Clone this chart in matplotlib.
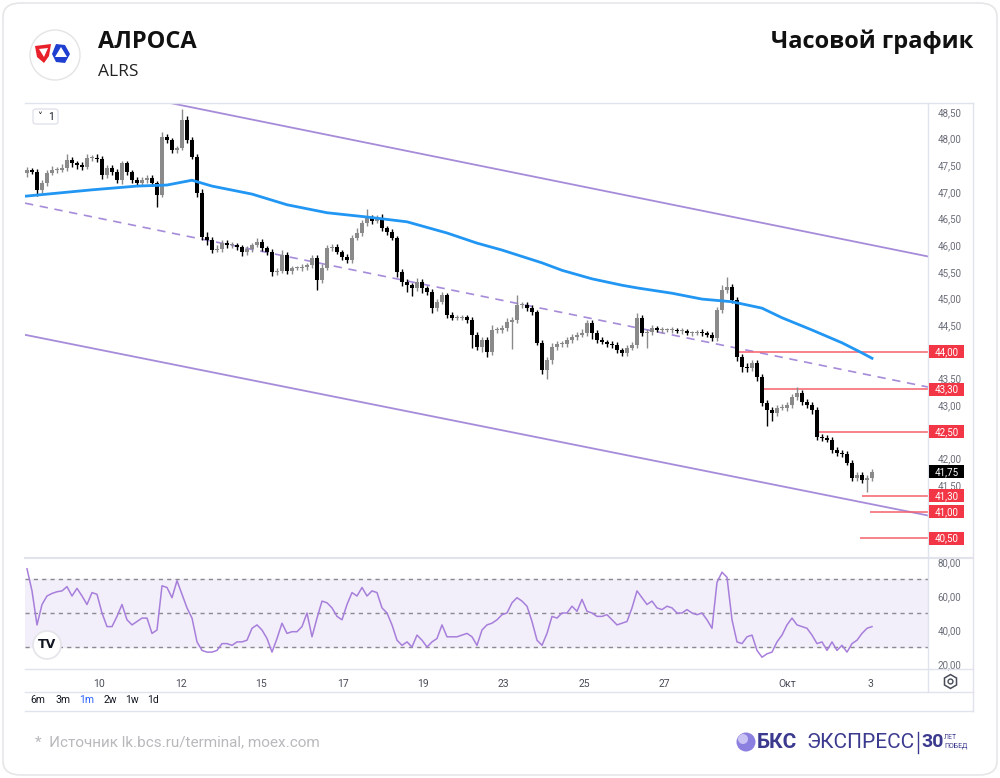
import matplotlib
matplotlib.use('Agg')
import matplotlib.pyplot as plt
from matplotlib.patches import FancyBboxPatch, Rectangle, Ellipse, Polygon
from matplotlib.lines import Line2D
import numpy as np

# ---------------- data ----------------
first_open = 47.35
closes = [
    47.41, 47.38, 47.04, 47.17, 47.36, 47.41, 47.42, 47.45, 47.60, 47.54,
    47.50, 47.47, 47.64, 47.64, 47.62, 47.32, 47.45, 47.38, 47.22, 47.54,
    47.38, 47.22, 47.17, 47.22, 47.26, 47.17, 46.94, 48.03, 47.97, 47.79,
    47.82, 48.35, 47.97, 47.66, 46.98, 46.15, 46.10, 45.91, 45.93, 46.04,
    46.00, 46.00, 45.97, 45.87, 45.93,
    46.00, 46.06, 45.95, 45.87, 45.50, 45.52, 45.82, 45.52, 45.57, 45.57,
    45.60, 45.63, 45.76, 45.35, 45.57, 45.95, 45.97, 45.88, 45.78, 45.72,
    46.14, 46.23, 46.42, 46.51, 46.45, 46.51, 46.32, 46.25, 46.14, 45.50,
    45.31, 45.25, 45.20, 45.31, 45.20, 45.12, 44.82, 44.94, 45.07, 44.69,
    44.64, 44.64, 44.65, 44.60, 44.32,
    44.09, 44.22, 44.00, 44.41, 44.41, 44.45, 44.56, 44.60, 44.88, 44.88,
    44.82, 44.75, 44.17, 43.66, 43.85, 44.09, 44.15, 44.15, 44.22, 44.28,
    44.32, 44.35, 44.54, 44.35, 44.22, 44.19, 44.15, 44.13, 44.03, 43.98,
    44.07, 44.13, 44.64, 44.35, 44.37, 44.45, 44.41, 44.41, 44.41, 44.41,
    44.39, 44.39, 44.35, 44.35, 44.37, 44.35,
    44.32, 44.26, 44.78, 45.16, 45.22, 44.97, 43.90, 43.72, 43.70, 43.79,
    43.53, 43.04, 42.91, 42.85, 42.95, 42.95, 43.00, 43.15, 43.23, 43.06,
    43.00, 42.91, 42.40, 42.38, 42.35, 42.16, 42.10, 42.08, 41.92, 41.63,
    41.69, 41.60, 41.63, 41.75,
]
wick_up = [
    0.05, 0.04, 0.06, 0.05, 0.06, 0.08, 0.05, 0.07, 0.12, 0.06,
    0.05, 0.06, 0.08, 0.05, 0.07, 0.05, 0.06, 0.05, 0.06, 0.05,
    0.05, 0.04, 0.06, 0.07, 0.05, 0.05, 0.04, 0.09, 0.06, 0.05,
    0.05, 0.20, 0.08, 0.06, 0.05, 0.07, 0.10, 0.05, 0.08, 0.06,
    0.05, 0.06, 0.05, 0.04, 0.06,
    0.05, 0.08, 0.05, 0.04, 0.06, 0.05, 0.10, 0.05, 0.04, 0.05,
    0.05, 0.04, 0.06, 0.05, 0.07, 0.05, 0.06, 0.05, 0.04, 0.05,
    0.06, 0.09, 0.06, 0.17, 0.05, 0.06, 0.07, 0.05, 0.06, 0.04,
    0.05, 0.06, 0.05, 0.08, 0.05, 0.04, 0.05, 0.06, 0.05, 0.04,
    0.05, 0.06, 0.04, 0.05, 0.05,
    0.05, 0.06, 0.05, 0.10, 0.06, 0.05, 0.07, 0.05, 0.19, 0.06,
    0.05, 0.06, 0.04, 0.05, 0.06, 0.07, 0.05, 0.06, 0.05, 0.06,
    0.05, 0.08, 0.06, 0.05, 0.06, 0.05, 0.04, 0.05, 0.05, 0.04,
    0.05, 0.06, 0.09, 0.05, 0.06, 0.05, 0.04, 0.05, 0.04, 0.05,
    0.04, 0.05, 0.04, 0.05, 0.04, 0.05,
    0.05, 0.06, 0.07, 0.10, 0.18, 0.06, 0.05, 0.06, 0.07, 0.05,
    0.06, 0.05, 0.06, 0.05, 0.06, 0.07, 0.05, 0.06, 0.12, 0.05,
    0.06, 0.05, 0.06, 0.05, 0.06, 0.05, 0.06, 0.05, 0.06, 0.05,
    0.06, 0.05, 0.06, 0.06,
]
wick_dn = [
    0.06, 0.05, 0.12, 0.06, 0.05, 0.04, 0.06, 0.05, 0.05, 0.07,
    0.06, 0.05, 0.04, 0.06, 0.05, 0.08, 0.05, 0.06, 0.05, 0.07,
    0.06, 0.05, 0.06, 0.04, 0.05, 0.06, 0.22, 0.04, 0.05, 0.06,
    0.05, 0.04, 0.06, 0.05, 0.07, 0.06, 0.10, 0.05, 0.04, 0.05,
    0.06, 0.05, 0.05, 0.07, 0.05,
    0.05, 0.04, 0.06, 0.05, 0.08, 0.06, 0.04, 0.05, 0.05, 0.04,
    0.05, 0.06, 0.05, 0.19, 0.05, 0.04, 0.06, 0.05, 0.05, 0.06,
    0.05, 0.04, 0.06, 0.05, 0.05, 0.04, 0.05, 0.06, 0.05, 0.10,
    0.08, 0.12, 0.15, 0.06, 0.10, 0.05, 0.10, 0.05, 0.04, 0.06,
    0.05, 0.04, 0.05, 0.05, 0.25,
    0.06, 0.10, 0.10, 0.05, 0.06, 0.05, 0.05, 0.50, 0.05, 0.06,
    0.05, 0.06, 0.05, 0.07, 0.16, 0.08, 0.06, 0.05, 0.06, 0.05,
    0.06, 0.05, 0.05, 0.10, 0.06, 0.05, 0.06, 0.05, 0.05, 0.06,
    0.05, 0.04, 0.05, 0.06, 0.28, 0.05, 0.04, 0.05, 0.04, 0.05,
    0.04, 0.05, 0.04, 0.05, 0.04, 0.05,
    0.05, 0.06, 0.05, 0.06, 0.05, 0.05, 0.08, 0.10, 0.08, 0.06,
    0.07, 0.06, 0.30, 0.15, 0.06, 0.05, 0.06, 0.05, 0.06, 0.05,
    0.06, 0.08, 0.05, 0.06, 0.05, 0.06, 0.05, 0.06, 0.05, 0.06,
    0.05, 0.06, 0.23, 0.05,
]
rsi = [
    76, 63, 43, 55, 60, 61.5, 62.5, 63, 65.5, 60,
    64.5, 60, 55, 62, 61, 50, 42, 42, 48, 55,
    46, 43, 45, 47, 47, 38, 40, 66, 65, 59,
    69, 61, 53, 47, 33, 28, 27, 27, 28, 32,
    32, 31, 33, 33, 34, 41, 43, 40, 35, 27,
    35, 44, 38, 39, 39, 42, 50, 36, 47, 57,
    56, 53, 48, 46, 55, 62, 60, 65, 60, 63,
    62, 53, 50, 43, 34, 31, 33, 30, 37, 34,
    30, 33, 35, 43, 36, 36, 36, 37, 38, 36,
    31, 40, 43, 44, 46, 49, 50, 56, 59, 57,
    54, 45, 34, 31, 38, 48, 47, 50, 50, 54,
    51, 58, 51, 50, 48, 48, 49, 46, 43, 44,
    45, 53, 63, 59, 55, 57, 53, 52, 54, 53,
    50, 50, 52, 50, 49, 50, 46, 41, 68, 74,
    71, 46, 33, 32, 36, 37, 28, 24, 26, 27,
    33, 37, 43, 47, 43, 42, 41, 37, 32, 33,
    28, 33, 28, 31, 27, 32, 34, 38, 41, 42,
]
ma_idx = [-0.4, 13, 22, 28, 33, 37, 45, 52, 60, 68, 76, 84, 90, 95, 103, 107,
          113, 119, 122, 129, 135, 141, 147, 151, 157, 163, 167, 169]
ma_val = [46.92, 47.04, 47.11, 47.13, 47.22, 47.11, 46.96, 46.76, 46.61, 46.53,
          46.44, 46.23, 46.04, 45.91, 45.67, 45.53, 45.37, 45.25, 45.20, 45.10,
          44.99, 44.94, 44.82, 44.64, 44.41, 44.17, 43.98, 43.88]

chan_upper = ([28.6, 180.2], [48.67, 45.79])
chan_mid = ([-0.4, 180.2], [46.79, 43.34])
chan_lower = ([-0.4, 180.2], [44.32, 40.93])

levels = [44.00, 43.30, 42.50, 41.30, 41.00, 40.50]
level_start = [141.6, 146.5, 158.0, 167.0, 168.6, 166.6]
last_price = 41.75

price_ticks = [48.5, 48.0, 47.5, 47.0, 46.5, 46.0, 45.5, 45.0, 44.5,
               43.5, 43.0, 42.0, 41.5]
rsi_ticks = [20, 40, 60, 80]
day_pos = [14.4, 30.8, 46.8, 63.2, 79.2, 95.2, 111.4, 127.4, 152.0, 168.6]
day_labels = ['10', '12', '15', '17', '19', '23', '25', '27', 'Окт', '3']
ranges = ['6m', '3m', '1m', '2w', '1w', '1d']

# ---------------- figure ----------------
W, H = 1000, 778
fig = plt.figure(figsize=(10, 7.78), dpi=100)
fig.patch.set_facecolor('white')


def fx(px):
    return px / W


def fy(py):
    return 1 - py / H


def circ(cx, cy, r, **kw):
    e = Ellipse((fx(cx), fy(cy)), 2 * r / W, 2 * r / H, transform=fig.transFigure, **kw)
    fig.add_artist(e)
    return e


card = FancyBboxPatch((fx(3), fy(775)), fx(994), 772 / H,
                      boxstyle='round,pad=0,rounding_size=0.018',
                      transform=fig.transFigure, facecolor='white',
                      edgecolor='#e6e6e9', lw=1.2, zorder=-5)
fig.add_artist(card)

AXF = 'Roboto'
lc = '#e0e3eb'

# main price pane
ax = fig.add_axes([fx(25), fy(556), (928 - 25) / W, (556 - 103) / H])
ax.patch.set_alpha(0)
ax.set_xlim(-0.4, 180.2)
ax.set_ylim(40.17, 48.669)
for s in ax.spines.values():
    s.set_visible(False)
ax.set_xticks([])

n = len(closes)
x = np.arange(n)
c = np.array(closes)
o = np.array([first_open] + closes[:-1])
hi = np.maximum(o, c) + np.array(wick_up)
lo = np.minimum(o, c) - np.array(wick_dn)
up = c >= o
cols = np.where(up, '#8a8a8a', '#000000')
ax.vlines(x, lo, hi, colors=cols, lw=1, zorder=3)
ax.bar(x, np.maximum(np.abs(c - o), 0.015), bottom=np.minimum(o, c), width=0.72,
       color=cols, linewidth=0, zorder=4)

pc = '#a68bd9'
ax.plot(*chan_upper, color=pc, lw=1.3, zorder=2)
ax.plot(*chan_lower, color=pc, lw=1.3, zorder=2)
ax.plot(*chan_mid, color=pc, lw=1.2, ls=(0, (5, 4)), zorder=2)
ax.plot(ma_idx, ma_val, color='#2196f3', lw=2, zorder=5, solid_joinstyle='round')
ax.hlines(levels, level_start, 180.2, colors='#f5606c', lw=1.1, zorder=2)

ax.yaxis.tick_right()
ax.set_yticks(price_ticks)
ax.set_yticklabels([f'{t:.2f}'.replace('.', ',') for t in price_ticks])
ax.tick_params(axis='y', length=0, pad=7, labelsize=7, labelcolor='#6a6d78')
for t in ax.get_yticklabels():
    t.set_fontfamily(AXF)


def price_box(level, text, fc):
    yd = ax.transData.transform((0, level))[1]
    yf = yd / fig.bbox.height
    r = Rectangle((fx(929), yf - 6.5 / H), 35 / W, 13 / H, transform=fig.transFigure,
                  facecolor=fc, edgecolor='none', zorder=10)
    fig.add_artist(r)
    fig.text(fx(946.5), yf, text, color='white', fontsize=7, family=AXF,
             ha='center', va='center', zorder=11)


for lv in levels:
    price_box(lv, f'{lv:.2f}'.replace('.', ','), '#f23645')
price_box(last_price, f'{last_price:.2f}'.replace('.', ','), '#000000')

# RSI pane
ax2 = fig.add_axes([fx(25), fy(668), (928 - 25) / W, (668 - 559) / H])
ax2.patch.set_alpha(0)
ax2.set_xlim(-0.4, 180.2)
ax2.set_ylim(17.65, 81.76)
for s in ax2.spines.values():
    s.set_visible(False)
ax2.axhspan(30, 70, color='#f2eefa', zorder=0)
for lv in [70, 50, 30]:
    ax2.axhline(lv, color='#8a8a8f', lw=1, ls=(0, (3, 3)), zorder=1)
ax2.plot(x, rsi, color='#a77fdb', lw=1.1, zorder=3)
ax2.yaxis.tick_right()
ax2.set_yticks(rsi_ticks)
ax2.set_yticklabels([f'{t:.2f}'.replace('.', ',') for t in rsi_ticks])
ax2.set_xticks(day_pos)
ax2.set_xticklabels(day_labels)
ax2.tick_params(axis='y', length=0, pad=7, labelsize=7, labelcolor='#6a6d78')
ax2.tick_params(axis='x', length=0, pad=8, labelsize=7.5, labelcolor='#4a4d58')
for t in ax2.get_yticklabels() + ax2.get_xticklabels():
    t.set_fontfamily(AXF)

# TradingView logo
circ(47, 645, 14, facecolor='white', edgecolor='#e4e4ea', lw=1.2, zorder=6)
fig.text(fx(47), fy(645), 'TV', fontsize=9, fontweight='bold', ha='center',
         va='center', color='#131722', zorder=7)


# frame lines
def hline(py, x0=25, x1=973, lw=1):
    fig.add_artist(Line2D([fx(x0), fx(x1)], [fy(py), fy(py)], transform=fig.transFigure,
                          color=lc, lw=lw))


def vline(px, y0, y1, lw=1):
    fig.add_artist(Line2D([fx(px), fx(px)], [fy(y0), fy(y1)], transform=fig.transFigure,
                          color=lc, lw=lw))


hline(103)
hline(558, lw=1.5)
hline(669)
hline(692)
hline(711)
vline(928, 103, 692)
vline(973, 103, 711)

# gear icon
fig.add_artist(Line2D([fx(950)], [fy(681)], marker='h', ms=10, mfc='none', mec='#4a4d58',
                      mew=1.1, transform=fig.transFigure))
fig.add_artist(Line2D([fx(950)], [fy(681)], marker='o', ms=3.5, mfc='none', mec='#4a4d58',
                      mew=1, transform=fig.transFigure))

# range buttons
rx = [38, 63, 87, 110, 132, 153]
for r, xx in zip(ranges, rx):
    fig.text(fx(xx), fy(700), r, fontsize=7.5, family=AXF, ha='center', va='center',
             color='#2962ff' if r == '1m' else '#131722')

# "v 1" box
fig.add_artist(FancyBboxPatch((fx(33), fy(124)), 25 / W, 15 / H,
                              boxstyle='round,pad=0,rounding_size=0.003',
                              transform=fig.transFigure, facecolor='white',
                              edgecolor='#e0e3eb', lw=1))
fig.text(fx(40), fy(117), '˅', fontsize=7, ha='center', va='center', color='#131722')
fig.text(fx(51), fy(116.5), '1', fontsize=7.5, family=AXF, ha='center', va='center',
         color='#131722')

# header
circ(55, 55, 25, facecolor='white', edgecolor='#e4e4e6', lw=1)
red = Polygon([[fx(35), fy(46)], [fx(51), fy(44)], [fx(49), fy(56)], [fx(44), fy(63)],
               [fx(37), fy(57)]], closed=True, transform=fig.transFigure,
              facecolor='#e8202a', edgecolor='none')
fig.add_artist(red)
fig.add_artist(Polygon([[fx(39), fy(49)], [fx(48), fy(48)], [fx(44), fy(57)]], closed=True,
                       transform=fig.transFigure, facecolor='white', edgecolor='none'))
blue = Polygon([[fx(56), fy(44)], [fx(65), fy(45)], [fx(70), fy(54)], [fx(65), fy(63)],
                [fx(56), fy(62)], [fx(52), fy(54)]], closed=True, transform=fig.transFigure,
               facecolor='#1f3fd1', edgecolor='none')
fig.add_artist(blue)
fig.add_artist(Polygon([[fx(61), fy(47)], [fx(67), fy(57)], [fx(55), fy(57)]], closed=True,
                       transform=fig.transFigure, facecolor='white', edgecolor='none'))

fig.text(fx(98), fy(42), 'АЛРОСА', fontsize=17, fontweight='bold', family='Open Sans',
         ha='left', va='center', color='#111111')
fig.text(fx(98), fy(72), 'ALRS', fontsize=12.5, family='Open Sans', ha='left', va='center',
         color='#222222')
fig.text(fx(973), fy(42), 'Часовой график', fontsize=17, fontweight='bold',
         family='Open Sans', ha='right', va='center', color='#111111')

# footer
fig.text(fx(35), fy(742), '*  Источник lk.bcs.ru/terminal, moex.com', fontsize=11,
         family='Roboto', ha='left', va='center', color='#b9b9bd')
circ(746, 742, 9.5, facecolor='#8b7fe0', edgecolor='none')
circ(743, 739, 5, facecolor='#c9c3f4', edgecolor='none')
fig.text(fx(757), fy(742), 'БКС', fontsize=15, fontweight='bold', family='Roboto',
         ha='left', va='center', color='#3b3a8f')
fig.text(fx(806), fy(742), 'ЭКСПРЕСС', fontsize=15, family='Roboto', ha='left',
         va='center', color='#3b3a8f')
fig.add_artist(Line2D([fx(918), fx(918)], [fy(732), fy(753)], transform=fig.transFigure,
                      color='#3b3a8f', lw=1))
fig.text(fx(921), fy(742), '30', fontsize=14, fontweight='bold', family='Roboto',
         ha='left', va='center', color='#3b3a8f')
fig.text(fx(944), fy(737.5), 'ЛЕТ', fontsize=5, family='Roboto', ha='left', va='center',
         color='#3b3a8f')
fig.text(fx(944), fy(746), 'ПОБЕД', fontsize=5, family='Roboto', ha='left', va='center',
         color='#3b3a8f')

fig.savefig('out.png', dpi=100)
